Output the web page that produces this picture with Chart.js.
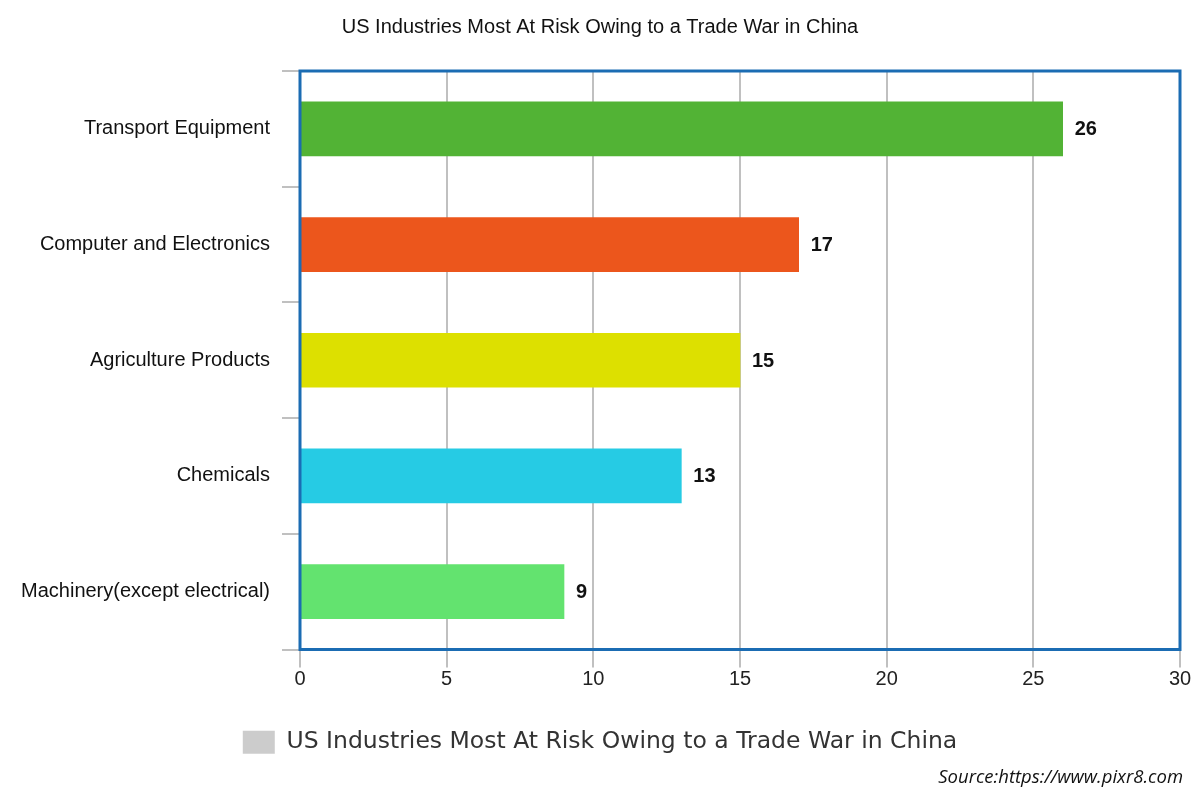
<!DOCTYPE html>
<html>
<head>
<meta charset="utf-8">
<script src="https://cdn.jsdelivr.net/npm/chart.js@4.4.0/dist/chart.umd.min.js"></script>
<style>
    body { margin: 0; background: #fff; }
    #wrap { position: relative; width: 1200px; height: 800px; }
    #source {
        position: absolute; right: 17px; top: 763px;
        font: italic 18.5px "Open Sans", sans-serif; color: #111;
    }
</style>
</head>
<body>
<div id="wrap">
    <canvas id="riskChart" width="1200" height="800"></canvas>
    <div id="source">Source:https://www.pixr8.com</div>
</div>
<script>
let chartTitle = "US Industries Most At Risk Owing to a Trade War in China";
let industries = ["Transport Equipment", "Computer and Electronics", "Agriculture Products", "Chemicals", "Machinery(except electrical)"];
let riskValues = [26, 17, 15, 13, 9];
let barColors = ["#52b335", "#ec561c", "#dde000", "#26cbe4", "#63e36f"];

// draws the blue frame round the plot and the value next to each bar
let framePlugin = {
    id: "frame",
    afterDatasetsDraw: function (chart) {
        let ctx = chart.ctx;
        let area = chart.chartArea;
        ctx.save();
        ctx.font = "bold 20px 'Liberation Sans', Arial, sans-serif";
        ctx.fillStyle = "#111";
        ctx.textBaseline = "middle";
        chart.getDatasetMeta(0).data.forEach(function (bar, i) {
            ctx.fillText(riskValues[i], bar.x + 12, bar.y + 1);
        });
        ctx.strokeStyle = "#1b6cb3";
        ctx.lineWidth = 3;
        ctx.strokeRect(area.left, area.top, area.right - area.left, area.bottom - area.top);
        ctx.restore();
    }
};

new Chart("riskChart", {
    type: "bar",
    data: {
        labels: industries,
        datasets: [{
            label: chartTitle,
            data: riskValues,
            backgroundColor: barColors,
            barThickness: 54
        }]
    },
    options: {
        indexAxis: "y",
        responsive: false,
        animation: false,
        layout: { padding: { left: 20, right: 20, top: 0, bottom: 36 } },
        scales: {
            x: {
                min: 0,
                max: 30,
                afterFit: function (scale) { scale.height = 69; },
                ticks: { stepSize: 5, color: "#222", padding: 0, font: { size: 20, family: "'Liberation Sans', Arial, sans-serif" } },
                grid: { color: "#c0c0c0", lineWidth: 2, tickLength: 18 },
                border: { display: false }
            },
            y: {
                afterFit: function (scale) { scale.width = 280; },
                ticks: { color: "#111", padding: 12, font: { size: 20, family: "'Liberation Sans', Arial, sans-serif" } },
                grid: { offset: true, drawOnChartArea: false, color: "#c0c0c0", lineWidth: 2, tickLength: 18 },
                border: { display: false }
            }
        },
        plugins: {
            title: {
                display: true,
                text: chartTitle,
                color: "#111",
                font: { size: 20, weight: "normal", family: "'Liberation Sans', Arial, sans-serif" },
                padding: { top: 15, bottom: 32 }
            },
            legend: {
                position: "bottom",
                labels: {
                    color: "#333",
                    boxWidth: 32,
                    boxHeight: 23,
                    padding: 12,
                    font: { size: 23.5, family: "'DejaVu Sans', sans-serif" },
                    generateLabels: function () {
                        return [{ text: chartTitle, fillStyle: "#cccccc", strokeStyle: "#cccccc", lineWidth: 0, fontColor: "#333" }];
                    }
                }
            },
            tooltip: { enabled: false }
        }
    },
    plugins: [framePlugin]
});
</script>
</body>
</html>
